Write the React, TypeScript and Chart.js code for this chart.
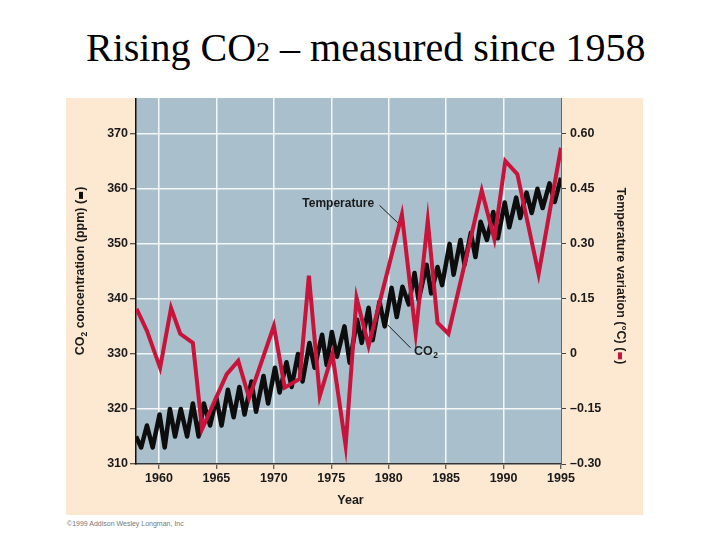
import React, { useEffect, useRef } from "react";
import { Chart, registerables } from "chart.js";

Chart.register(...registerables);

// ---- data ----
const co2Years = [
  1958.0, 1958.45, 1958.95, 1959.45, 1960.05, 1960.5, 1960.95, 1961.4, 1961.9, 1962.45, 1962.95, 1963.45,
  1963.9, 1964.45, 1965.0, 1965.45, 1966.0, 1966.5, 1967.0, 1967.45, 1968.05, 1968.45, 1969.1, 1969.5,
  1970.1, 1970.5, 1971.1, 1971.55, 1972.1, 1972.5, 1973.1, 1973.55, 1974.2, 1974.6, 1975.05, 1975.5,
  1976.15, 1976.6, 1977.25, 1977.65, 1978.25, 1978.6, 1979.2, 1979.65, 1980.25, 1980.7, 1981.2, 1981.75,
  1982.25, 1982.6, 1983.3, 1983.7, 1984.25, 1984.65, 1985.3, 1985.65, 1986.25, 1986.6, 1987.15, 1987.55,
  1988.0, 1988.55, 1989.1, 1989.5, 1990.1, 1990.5, 1991.1, 1991.45, 1992.0, 1992.45, 1992.95, 1993.4,
  1994.0, 1994.45, 1995.0,
];
const co2Values = [
  315, 313, 317, 313, 319, 313, 320, 315, 320, 315, 321, 315,
  321, 317, 322, 317, 323.5, 318.5, 324, 319, 325, 319.5, 326, 321,
  327.5, 323, 328.5, 324, 330, 325, 332, 327.5, 333.5, 328, 334, 329.5,
  335, 328.4, 336.2, 332, 338.4, 332.5, 339.5, 335, 342, 336.7, 342.2, 339,
  344.7, 339.8, 346.2, 341, 345.8, 342.5, 350, 344.4, 350.7, 346.2, 352, 347.6,
  354, 350.7, 355.8, 351, 357.5, 353, 358.4, 354.7, 359.3, 355.6, 360, 356.5,
  361, 357.6, 362,
];

const tempYears = [
  1958.05, 1958.95, 1960.1, 1961.05, 1961.85, 1962.95, 1963.75, 1965.9, 1966.9, 1967.85,
  1970.0, 1970.95, 1972.25, 1973.05, 1974.0, 1975.1, 1976.25, 1977.2, 1978.25, 1981.15,
  1982.35, 1983.4, 1984.25, 1985.2, 1988.1, 1989.2, 1990.15, 1991.2, 1993.05, 1995.0,
];
const tempValues = [
  0.123, 0.063, -0.038, 0.125, 0.055, 0.03, -0.205, -0.055, -0.019, -0.12,
  0.076, -0.092, -0.068, 0.213, -0.115, 0.0, -0.25, 0.153, 0.022, 0.38,
  0.055, 0.363, 0.085, 0.055, 0.445, 0.313, 0.526, 0.49, 0.218, 0.562,
];

const yearTicks = [1960, 1965, 1970, 1975, 1980, 1985, 1990, 1995];
const co2Ticks = [310, 320, 330, 340, 350, 360, 370];
const tempTicks = [-0.3, -0.15, 0, 0.15, 0.3, 0.45, 0.6];
const tempTickLabels = ["\u20130.30", "\u20130.15", "0", "0.15", "0.30", "0.45", "0.60"];

// annotation anchors (data units)
const tempLabelAt = { x: 1975.6, y: 357.3 };
const tempLeader = [
  { x: 1979.2, y: 357.0 },
  { x: 1980.8, y: 353.8 },
];
const co2LabelAt = { x: 1982.2, y: 330.4 };
const co2Leader = [
  { x: 1979.9, y: 335.3 },
  { x: 1981.9, y: 331.1 },
];

const RED = "#c8143a";
const BLACK = "#0d0d0d";
const PLOT_BG = "#a9c0cc";
const PANEL_BG = "#fde8d2";
const FONT = "'Liberation Sans', Arial, Helvetica, sans-serif";

function drawPieces(ctx: CanvasRenderingContext2D, pieces: any[]) {
  let total = 0;
  const widths = pieces.map((p) => {
    if (p.bar) return p.len + 2;
    ctx.font = p.font;
    return ctx.measureText(p.text).width;
  });
  widths.forEach((w) => (total += w));
  let x = -total / 2;
  pieces.forEach((p, i) => {
    if (p.bar) {
      ctx.fillStyle = p.color;
      ctx.fillRect(x + 1, -2, p.len, 4);
    } else {
      ctx.font = p.font;
      ctx.fillStyle = p.color || "#1a1a1a";
      ctx.fillText(p.text, x, p.dy || 0);
    }
    x += widths[i];
  });
}

const decorPlugin = {
  id: "decor",
  beforeDraw(chart: any) {
    const { ctx, chartArea: a } = chart;
    ctx.save();
    ctx.fillStyle = PLOT_BG;
    ctx.fillRect(a.left, a.top, a.right - a.left, a.bottom - a.top);
    ctx.restore();
  },
  afterDraw(chart: any) {
    const { ctx, chartArea: a } = chart;
    const xs = chart.scales.x;
    const ys = chart.scales.y;
    const px = (p: any) => [xs.getPixelForValue(p.x), ys.getPixelForValue(p.y)];
    ctx.save();
    ctx.textBaseline = "middle";

    ctx.font = `bold 12px ${FONT}`;
    ctx.fillStyle = "#1a1a1a";
    ctx.textAlign = "center";
    const [tx, ty] = px(tempLabelAt);
    ctx.fillText("Temperature", tx, ty);
    ctx.strokeStyle = "#1a1a1a";
    ctx.lineWidth = 1;
    ctx.beginPath();
    let [x1, y1] = px(tempLeader[0]);
    let [x2, y2] = px(tempLeader[1]);
    ctx.moveTo(x1, y1);
    ctx.lineTo(x2, y2);
    ctx.stroke();

    [x1, y1] = px(co2Leader[0]);
    [x2, y2] = px(co2Leader[1]);
    ctx.beginPath();
    ctx.moveTo(x1, y1);
    ctx.lineTo(x2, y2);
    ctx.stroke();
    const [cx, cy] = px(co2LabelAt);
    ctx.textAlign = "left";
    ctx.font = `bold 12.5px ${FONT}`;
    ctx.fillText("CO", cx, cy);
    const cw = ctx.measureText("CO").width;
    ctx.font = `bold 8.5px ${FONT}`;
    ctx.fillText("2", cx + cw + 0.5, cy + 4);

    ctx.textAlign = "left";
    const tf = `bold 12.5px ${FONT}`;
    const sf = `bold 8.5px ${FONT}`;
    ctx.save();
    ctx.translate(a.left - 55, 173);
    ctx.rotate(-Math.PI / 2);
    drawPieces(ctx, [
      { text: "CO", font: tf },
      { text: "2", font: sf, dy: 4 },
      { text: " concentration (ppm) (", font: tf },
      { bar: true, color: BLACK, len: 7 },
      { text: ")", font: tf },
    ]);
    ctx.restore();

    ctx.save();
    ctx.translate(a.right + 59, 178);
    ctx.rotate(Math.PI / 2);
    drawPieces(ctx, [
      { text: "Temperature variation (\u00B0C) (", font: tf },
      { bar: true, color: RED, len: 7 },
      { text: ")", font: tf },
    ]);
    ctx.restore();

    ctx.textAlign = "center";
    ctx.font = `bold 12.5px ${FONT}`;
    ctx.fillStyle = "#1a1a1a";
    ctx.fillText("Year", (a.left + a.right) / 2 + 2, a.bottom + 37);
    ctx.restore();
  },
};

function zeroPad(scale: any) {
  scale.paddingTop = 0;
  scale.paddingBottom = 0;
  scale.paddingLeft = 0;
  scale.paddingRight = 0;
}

export default function App() {
  const ref = useRef<HTMLCanvasElement | null>(null);

  useEffect(() => {
    if (!ref.current) return;
    const tickFont = { family: FONT, size: 12.5, weight: "bold" as const };
    const chart = new Chart(ref.current, {
      type: "line",
      data: {
        datasets: [
          {
            label: "Temperature",
            data: tempYears.map((x, i) => ({ x, y: tempValues[i] })),
            yAxisID: "y1",
            borderColor: RED,
            borderWidth: 4,
            borderJoinStyle: "miter",
            pointRadius: 0,
            tension: 0,
            fill: false,
          },
          {
            label: "CO2",
            data: co2Years.map((x, i) => ({ x, y: co2Values[i] })),
            yAxisID: "y",
            borderColor: BLACK,
            borderWidth: 4.5,
            borderJoinStyle: "round",
            pointRadius: 0,
            tension: 0,
            fill: false,
          },
        ],
      },
      options: {
        animation: false,
        responsive: false,
        maintainAspectRatio: false,
        layout: { padding: 0, autoPadding: false } as any,
        plugins: { legend: { display: false }, tooltip: { enabled: false }, title: { display: false } },
        scales: {
          x: {
            type: "linear",
            min: 1958,
            max: 1995,
            afterBuildTicks: (s: any) => {
              s.ticks = yearTicks.map((v) => ({ value: v }));
            },
            afterFit: (s: any) => {
              s.height = 51;
              zeroPad(s);
            },
            grid: {
              color: (c: any) => (c.tick && c.tick.value === 1995 ? "rgba(0,0,0,0)" : "#f4f7f8"),
              lineWidth: 1.5,
              tickLength: 5,
              tickColor: "#333",
              tickWidth: 1,
            },
            border: { display: true, color: "#333", width: 1.5 },
            ticks: {
              font: tickFont,
              color: "#1a1a1a",
              padding: 2,
              maxRotation: 0,
              autoSkip: false,
              callback: (v: any) => String(v),
            },
          },
          y: {
            type: "linear",
            position: "left",
            min: 310,
            max: 376.5,
            afterBuildTicks: (s: any) => {
              s.ticks = co2Ticks.map((v) => ({ value: v }));
            },
            afterFit: (s: any) => {
              s.width = 70;
              zeroPad(s);
            },
            grid: {
              color: "#f4f7f8",
              lineWidth: 1.5,
              tickLength: 6,
              tickColor: "#222",
              tickWidth: 1,
            },
            border: { display: true, color: "#111", width: 1.5 },
            ticks: { font: tickFont, color: "#1a1a1a", padding: 2, callback: (v: any) => String(v) },
          },
          y1: {
            type: "linear",
            position: "right",
            min: -0.3,
            max: 0.6975,
            afterBuildTicks: (s: any) => {
              s.ticks = tempTicks.map((v) => ({ value: v }));
            },
            afterFit: (s: any) => {
              s.width = 82;
              zeroPad(s);
            },
            grid: {
              drawOnChartArea: false,
              tickLength: 5,
              tickColor: "#444",
              tickWidth: 1,
            },
            border: { display: true, color: "#666", width: 1 },
            ticks: {
              font: tickFont,
              color: "#1a1a1a",
              padding: 4,
              callback: (v: any) => {
                const i = tempTicks.findIndex((t) => Math.abs(t - v) < 1e-6);
                return i >= 0 ? tempTickLabels[i] : "";
              },
            },
          },
        },
      },
      plugins: [decorPlugin],
    } as any);
    return () => chart.destroy();
  }, []);

  return (
    <div style={{ position: "absolute", left: 0, top: 0, width: 720, height: 540, background: "#fff", overflow: "hidden" }}>
      <div
        style={{
          position: "absolute",
          left: 86,
          top: 28,
          fontFamily: "'Liberation Serif', 'Times New Roman', serif",
          fontSize: 40,
          lineHeight: "40px",
          whiteSpace: "nowrap",
          color: "#000",
        }}
      >
        Rising CO<span style={{ fontSize: 28 }}>2</span> – measured since 1958
      </div>
      <div style={{ position: "absolute", left: 66, top: 98, width: 577, height: 417, background: PANEL_BG }}>
        <canvas ref={ref} width={577} height={417} style={{ display: "block", width: 577, height: 417 }} />
      </div>
      <div
        style={{
          position: "absolute",
          left: 67,
          top: 520,
          fontFamily: FONT,
          fontSize: 7,
          color: "#777",
          whiteSpace: "nowrap",
        }}
      >
        ©1999 Addison Wesley Longman, Inc
      </div>
    </div>
  );
}
